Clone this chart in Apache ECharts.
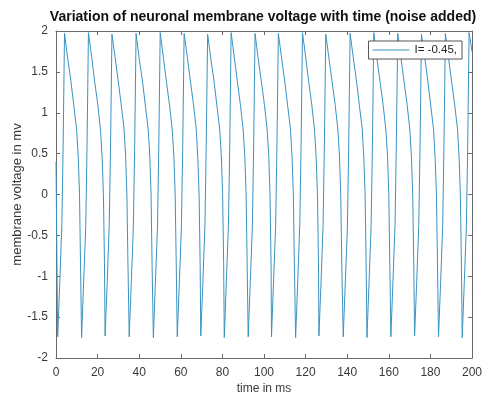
<!DOCTYPE html>
<html>
<head>
<meta charset="utf-8">
<script src="https://cdn.jsdelivr.net/npm/echarts@6/dist/echarts.min.js"></script>
<style>html,body{margin:0;padding:0;background:#fff}#c{width:483px;height:396px}</style>
</head>
<body>
<div id="c"></div>
<script>
// time samples (ms), one line per spike cycle
var timeMs = [
  0.0,
  0.8, 1.8, 2.8, 3.4, 4.1, 5.6, 7.1, 8.6, 9.9, 10.7, 11.3, 11.8,
  12.3, 13.3, 14.3, 14.9, 15.6, 17.1, 18.6, 20.1, 21.4, 22.2, 22.8, 23.3,
  23.6, 24.6, 25.6, 26.2, 26.9, 28.4, 29.9, 31.4, 32.7, 33.5, 34.1, 34.6,
  35.2, 36.2, 37.2, 37.8, 38.5, 40.0, 41.5, 43.0, 44.3, 45.1, 45.7, 46.2,
  46.8, 47.8, 48.8, 49.4, 50.1, 51.6, 53.1, 54.6, 55.9, 56.7, 57.3, 57.8,
  58.3, 59.3, 60.3, 60.9, 61.6, 63.1, 64.6, 66.1, 67.4, 68.2, 68.8, 69.3,
  69.6, 70.6, 71.6, 72.2, 72.9, 74.4, 75.9, 77.4, 78.7, 79.5, 80.1, 80.6,
  80.9, 81.9, 82.9, 83.5, 84.2, 85.7, 87.2, 88.7, 90.0, 90.8, 91.4, 91.9,
  92.4, 93.4, 94.4, 95.0, 95.7, 97.2, 98.7, 100.2, 101.5, 102.3, 102.9, 103.4,
  103.6, 104.6, 105.6, 106.2, 106.9, 108.4, 109.9, 111.4, 112.7, 113.5, 114.1, 114.6,
  115.2, 116.2, 117.2, 117.8, 118.5, 120.0, 121.5, 123.0, 124.3, 125.1, 125.7, 126.2,
  126.4, 127.4, 128.4, 129.0, 129.7, 131.2, 132.7, 134.2, 135.5, 136.3, 136.9, 137.4,
  138.1, 139.1, 140.1, 140.7, 141.4, 142.9, 144.4, 145.9, 147.2, 148.0, 148.6, 149.1,
  149.5, 150.5, 151.5, 152.1, 152.8, 154.3, 155.8, 157.3, 158.6, 159.4, 160.0, 160.5,
  161.0, 162.0, 163.0, 163.6, 164.3, 165.8, 167.3, 168.8, 170.1, 170.9, 171.5, 172.0,
  172.4, 173.4, 174.4, 175.0, 175.7, 177.2, 178.7, 180.2, 181.5, 182.3, 182.9, 183.4,
  183.9, 184.9, 185.9, 186.5, 187.2, 188.7, 190.2, 191.7, 193.0, 193.8, 194.4, 194.9,
  195.3, 196.3, 197.3, 197.9, 198.6, 200.0
];
// membrane voltage (mv) at each sample
var voltage = [
  0.40,
  -1.74, -1.08, -0.38, 0.55, 1.97, 1.67, 1.40, 1.08, 0.80, 0.46, 0.01, -0.86,
  -1.75, -1.07, -0.39, 0.56, 1.98, 1.69, 1.38, 1.10, 0.79, 0.44, 0.00, -0.84,
  -1.73, -1.09, -0.37, 0.54, 1.96, 1.68, 1.39, 1.09, 0.81, 0.45, -0.02, -0.85,
  -1.74, -1.08, -0.38, 0.55, 1.97, 1.66, 1.40, 1.08, 0.80, 0.47, 0.01, -0.87,
  -1.75, -1.06, -0.39, 0.57, 1.98, 1.68, 1.38, 1.09, 0.79, 0.45, 0.00, -0.85,
  -1.74, -1.08, -0.38, 0.55, 1.97, 1.69, 1.39, 1.10, 0.81, 0.44, -0.01, -0.86,
  -1.73, -1.09, -0.37, 0.56, 1.96, 1.67, 1.40, 1.08, 0.80, 0.46, 0.01, -0.84,
  -1.75, -1.07, -0.38, 0.54, 1.98, 1.68, 1.38, 1.09, 0.79, 0.45, 0.00, -0.85,
  -1.74, -1.08, -0.39, 0.55, 1.97, 1.66, 1.39, 1.10, 0.80, 0.47, -0.02, -0.86,
  -1.74, -1.06, -0.38, 0.57, 1.97, 1.68, 1.40, 1.08, 0.81, 0.45, 0.01, -0.85,
  -1.75, -1.08, -0.37, 0.55, 1.98, 1.69, 1.38, 1.09, 0.79, 0.44, 0.00, -0.84,
  -1.73, -1.09, -0.38, 0.56, 1.96, 1.67, 1.39, 1.10, 0.80, 0.46, -0.01, -0.86,
  -1.74, -1.07, -0.39, 0.54, 1.97, 1.68, 1.40, 1.08, 0.81, 0.45, 0.01, -0.85,
  -1.75, -1.08, -0.38, 0.55, 1.98, 1.66, 1.38, 1.09, 0.79, 0.47, 0.00, -0.87,
  -1.74, -1.06, -0.37, 0.57, 1.97, 1.68, 1.39, 1.10, 0.80, 0.45, -0.02, -0.85,
  -1.73, -1.08, -0.38, 0.55, 1.96, 1.69, 1.40, 1.08, 0.80, 0.44, 0.01, -0.84,
  -1.74, -1.09, -0.39, 0.56, 1.97, 1.67, 1.38, 1.09, 0.81, 0.46, 0.00, -0.86,
  -1.75, -1.07, -0.38, 0.54, 1.98, 1.75
];
var xTicks = {min: 0, max: 200, step: 20};
var yTicks = {min: -2, max: 2, step: 0.5};
var seriesName = 'I= -0.45,';
var titleText = 'Variation of neuronal membrane voltage with time (noise added)';
var xLabel = 'time in ms';
var yLabel = 'membrane voltage in mv';

var pts = timeMs.map(function (t, i) { return [t, voltage[i]]; });
var FONT = 'Liberation Sans, Arial, Helvetica, sans-serif';
var axisCol = '#6a6a6a';
var labCol = '#3a3a3a';

function xAx(pos, show) {
  return {
    type: 'value', position: pos, min: xTicks.min, max: xTicks.max, interval: xTicks.step,
    axisLine: {show: true, onZero: false, lineStyle: {color: axisCol, width: 1}},
    axisTick: {show: true, inside: true, length: 4, lineStyle: {color: axisCol}},
    axisLabel: {show: show, color: labCol, fontFamily: FONT, fontSize: 12, margin: 9},
    splitLine: {show: false},
    name: show ? xLabel : '', nameLocation: 'middle', nameGap: 25, nameMoveOverlap: false,
    nameTextStyle: {color: labCol, fontFamily: FONT, fontSize: 12}
  };
}
function yAx(pos, show) {
  return {
    type: 'value', position: pos, min: yTicks.min, max: yTicks.max, interval: yTicks.step,
    axisLine: {show: true, onZero: false, lineStyle: {color: axisCol, width: 1}},
    axisTick: {show: true, inside: true, length: 4, lineStyle: {color: axisCol}},
    axisLabel: {show: show, color: labCol, fontFamily: FONT, fontSize: 12, margin: 8},
    splitLine: {show: false},
    name: show ? yLabel : '', nameLocation: 'middle', nameGap: 32, nameRotate: 90, nameMoveOverlap: false,
    nameTextStyle: {color: labCol, fontFamily: FONT, fontSize: 13}
  };
}

var chart = echarts.init(document.getElementById('c'), null, {renderer: 'canvas'});
chart.setOption({
  animation: false,
  backgroundColor: '#fff',
  title: {
    text: titleText, left: 258, textAlign: 'center', top: 5,
    textStyle: {fontFamily: FONT, fontSize: 14, fontWeight: 'bold', color: '#111'}
  },
  grid: {left: 56, right: 11, top: 31, bottom: 38, containLabel: false, outerBoundsMode: 'none'},
  xAxis: [xAx('bottom', true), xAx('top', false)],
  yAxis: [yAx('left', true), yAx('right', false)],
  legend: {
    right: 21, top: 41, orient: 'vertical',
    backgroundColor: '#fff', borderColor: '#555', borderWidth: 1,
    padding: [3, 5, 3, 4], itemWidth: 37, itemHeight: 10, itemGap: 0,
    textStyle: {fontFamily: FONT, fontSize: 11.5, color: '#222'},
    data: [{name: seriesName, icon: 'path://M0,5 L37,5 L37,6 L0,6 Z'}]
  },
  series: [{
    name: seriesName, type: 'line', data: pts, xAxisIndex: 0, yAxisIndex: 0,
    symbol: 'none', clip: true,
    lineStyle: {color: '#3a93c2', width: 1},
    itemStyle: {color: '#3a93c2'}
  }]
});
</script>
</body>
</html>
